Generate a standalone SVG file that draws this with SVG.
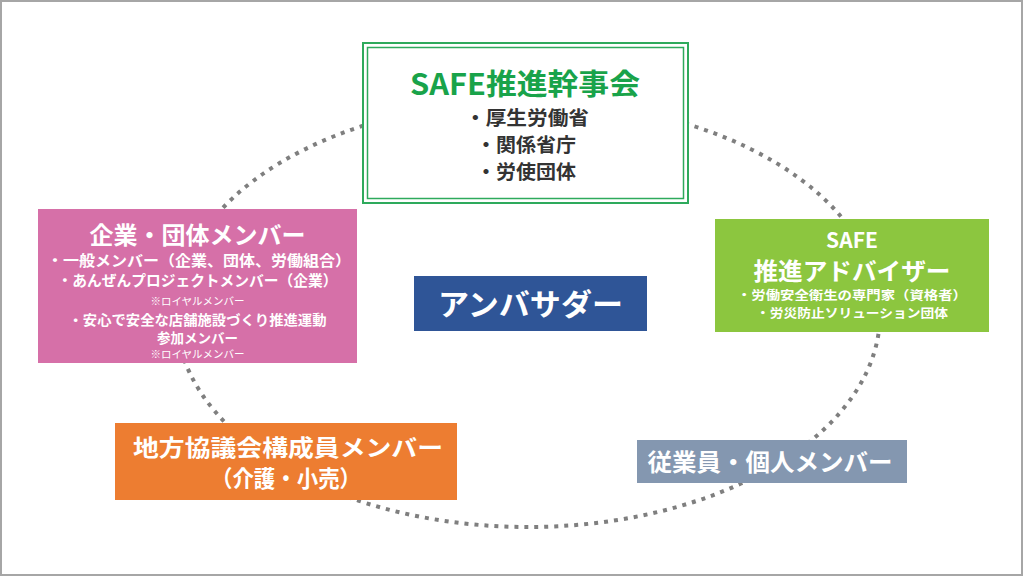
<svg xmlns="http://www.w3.org/2000/svg" width="1024" height="577" viewBox="0 0 1024 577">
<style>
text{font-family:"Noto Sans CJK JP","Noto Sans",sans-serif;text-anchor:middle;font-weight:bold}
.w{fill:#ffffff}
.d{fill:#333333}
.n{font-weight:normal}
</style>
<rect x="0" y="0" width="1024" height="577" fill="#ffffff"/>
<rect x="1" y="1" width="1021" height="574" fill="none" stroke="#a6a6a6" stroke-width="2"/>
<g id="connectors">
<ellipse cx="528" cy="314" rx="352" ry="213" fill="none" stroke="#7f7f7f" stroke-width="4" stroke-dasharray="4 6"/>
</g>
<g id="kanjikai">
<rect x="363" y="43" width="325" height="160" fill="#ffffff" stroke="#2eaa5c" stroke-width="2"/>
<rect x="367.5" y="47.5" width="316" height="151" fill="none" stroke="#2eaa5c" stroke-width="1.5"/>
<text x="525" y="95" font-size="29" fill="#19a34a" textLength="230" lengthAdjust="spacingAndGlyphs">SAFE推進幹事会</text>
<text x="527" y="125" font-size="19.5" class="d" textLength="124" lengthAdjust="spacingAndGlyphs">・厚生労働省</text>
<text x="526" y="152" font-size="19.5" class="d" textLength="100" lengthAdjust="spacingAndGlyphs">・関係省庁</text>
<text x="526" y="179" font-size="19.5" class="d" textLength="100" lengthAdjust="spacingAndGlyphs">・労使団体</text>
</g>
<g id="kigyo">
<rect x="38" y="209" width="319" height="154" fill="#d670a8"/>
<text x="197.5" y="244" font-size="24" class="w">企業・団体メンバー</text>
<text x="199" y="266" font-size="15" class="w" textLength="304" lengthAdjust="spacingAndGlyphs">・一般メンバー（企業、団体、労働組合）</text>
<text x="197.5" y="286" font-size="15" class="w" textLength="280" lengthAdjust="spacingAndGlyphs">・あんぜんプロジェクトメンバー（企業）</text>
<text x="197.5" y="305" font-size="10.5" class="w n">※ロイヤルメンバー</text>
<text x="197.5" y="325" font-size="13.5" class="w" textLength="258" lengthAdjust="spacingAndGlyphs">・安心で安全な店舗施設づくり推進運動</text>
<text x="197.5" y="343" font-size="13.5" class="w">参加メンバー</text>
<text x="197.5" y="358" font-size="10.5" class="w n">※ロイヤルメンバー</text>
</g>
<g id="advisor">
<rect x="715" y="219" width="274" height="113" fill="#8cc63f"/>
<text x="852" y="248" font-size="21" class="w">SAFE</text>
<text x="852" y="280" font-size="24" class="w" textLength="197" lengthAdjust="spacingAndGlyphs">推進アドバイザー</text>
<text x="852" y="300" font-size="12.5" class="w" textLength="230" lengthAdjust="spacingAndGlyphs">・労働安全衛生の専門家（資格者）</text>
<text x="852" y="318" font-size="12.5" class="w" textLength="192" lengthAdjust="spacingAndGlyphs">・労災防止ソリューション団体</text>
</g>
<g id="ambassador">
<rect x="414" y="276" width="233" height="55" fill="#2f5597"/>
<text x="530.5" y="315" font-size="30" class="w" textLength="185" lengthAdjust="spacingAndGlyphs">アンバサダー</text>
</g>
<g id="chiho">
<rect x="115" y="423" width="342" height="77" fill="#ed7d31"/>
<text x="288" y="456" font-size="23" class="w" textLength="310" lengthAdjust="spacingAndGlyphs">地方協議会構成員メンバー</text>
<text x="286" y="487" font-size="23" class="w" textLength="150" lengthAdjust="spacingAndGlyphs">（介護・小売）</text>
</g>
<g id="jugyoin">
<rect x="637" y="440" width="270" height="43" fill="#8497b0"/>
<text x="770" y="471" font-size="24" class="w" textLength="245" lengthAdjust="spacingAndGlyphs">従業員・個人メンバー</text>
</g>
</svg>
